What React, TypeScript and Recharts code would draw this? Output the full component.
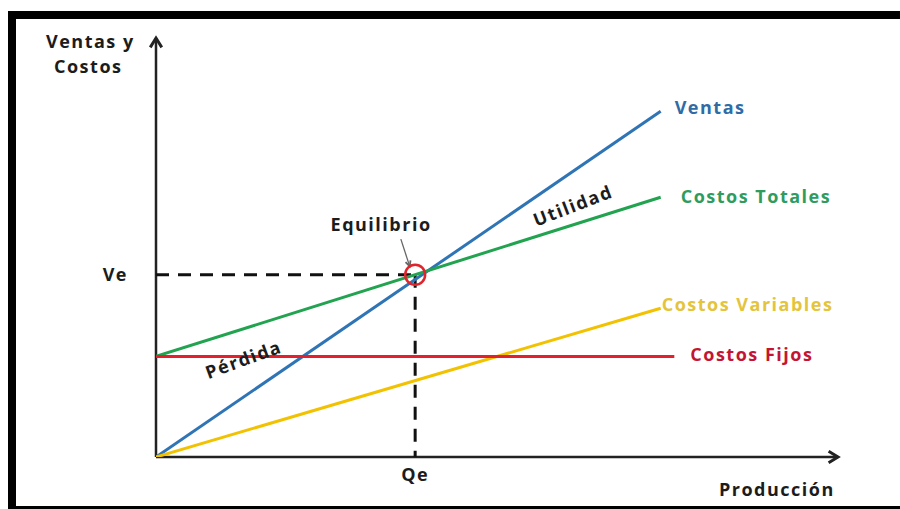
import { Line, LineChart, ReferenceDot, ReferenceLine, XAxis, YAxis } from "recharts";

// production quantity (x) and money (y), both on a 0..100 scale
const produccion = [0, 74];
const ventas = [0, 82.5];
const costosTotales = [24, 62];
const costosVariables = [0, 35.5];
const produccionFijos = [0, 76];
const costosFijos = [24, 24];

const qe = 38;
const ve = 43.5;

const FONT = "'Open Sans', 'DejaVu Sans', sans-serif";
const INK = "#1c1c1c";
const SPACING = 1.5;

const toPoints = (xs: number[], ys: number[]) => xs.map((x, i) => ({ x, y: ys[i] }));

const series = [
  { name: "Ventas", color: "#2f74b5", text: "#2f6ca6", data: toPoints(produccion, ventas), dx: 14, dy: -4 },
  { name: "Costos Totales", color: "#22a350", text: "#2f9c5e", data: toPoints(produccion, costosTotales), dx: 20, dy: -1 },
  { name: "Costos Variables", color: "#f2c200", text: "#e3c43c", data: toPoints(produccion, costosVariables), dx: 1, dy: -4 },
  { name: "Costos Fijos", color: "#e3202c", text: "#c41434", data: toPoints(produccionFijos, costosFijos), dx: 16, dy: -2 },
];

// line with an open chevron head at its end point
function ArrowLine(props: any) {
  const { x1, y1, x2, y2, stroke, strokeWidth, head = 9, spread = 0.6 } = props;
  const ang = Math.atan2(y2 - y1, x2 - x1);
  const p1 = [x2 - head * Math.cos(ang - spread), y2 - head * Math.sin(ang - spread)];
  const p2 = [x2 - head * Math.cos(ang + spread), y2 - head * Math.sin(ang + spread)];
  return (
    <g>
      <line x1={x1} y1={y1} x2={x2} y2={y2} stroke={stroke} strokeWidth={strokeWidth} />
      <polyline
        points={`${p1[0]},${p1[1]} ${x2},${y2} ${p2[0]},${p2[1]}`}
        fill="none"
        stroke={stroke}
        strokeWidth={strokeWidth + 0.5}
        strokeLinejoin="miter"
      />
    </g>
  );
}

const endLabel = (text: string, color: string, dx: number, dy: number) => (props: any) => {
  const { viewBox } = props;
  return (
    <text
      x={viewBox.x + dx}
      y={viewBox.y + dy}
      fill={color}
      fontFamily={FONT}
      fontWeight={700}
      fontSize={18}
      letterSpacing={SPACING}
      dominantBaseline="central"
    >
      {text}
    </text>
  );
};

const tiltedLabel = (text: string, angle: number) => (props: any) => {
  const { viewBox } = props;
  const cx = viewBox.x + viewBox.width / 2;
  const cy = viewBox.y + viewBox.height / 2;
  return (
    <text
      x={cx}
      y={cy}
      transform={`rotate(${angle} ${cx} ${cy})`}
      fill={INK}
      fontFamily={FONT}
      fontWeight={700}
      fontSize={18}
      letterSpacing={SPACING}
      textAnchor="middle"
      dominantBaseline="central"
    >
      {text}
    </text>
  );
};

const titleStyle: React.CSSProperties = {
  position: "absolute",
  fontFamily: FONT,
  fontWeight: 700,
  fontSize: 18,
  letterSpacing: SPACING,
  color: INK,
  lineHeight: "24px",
  whiteSpace: "nowrap",
};

const tickStyle = { fill: INK, fontFamily: FONT, fontWeight: 700, fontSize: 18, letterSpacing: SPACING };

export default function App() {
  return (
    <div style={{ position: "absolute", left: 0, top: 0, width: 900, height: 509, background: "#fff", overflow: "hidden" }}>
      <div
        style={{
          position: "absolute",
          left: 8,
          top: 11,
          width: 892,
          height: 498,
          boxSizing: "border-box",
          borderTop: "8px solid #000",
          borderLeft: "8px solid #000",
          borderBottom: "3px solid #000",
        }}
      />
      <div style={{ ...titleStyle, left: 46, top: 29 }}>Ventas y</div>
      <div style={{ ...titleStyle, left: 54, top: 54 }}>Costos</div>
      <div style={{ ...titleStyle, left: 719, top: 477 }}>Producción</div>

      <div style={{ position: "absolute", left: 0, top: 0 }}>
        <LineChart width={900} height={509} margin={{ top: 38, right: 62, bottom: 22, left: 96 }}>
          <XAxis
            type="number"
            dataKey="x"
            domain={[0, 100]}
            ticks={[qe]}
            tickFormatter={() => "Qe"}
            axisLine={false}
            tickLine={false}
            tickSize={0}
            tickMargin={11}
            height={30}
            tick={tickStyle}
            allowDataOverflow
          />
          <YAxis
            type="number"
            domain={[0, 100]}
            ticks={[ve]}
            tickFormatter={() => "Ve"}
            axisLine={false}
            tickLine={false}
            tickSize={0}
            tickMargin={28}
            width={60}
            tick={tickStyle}
            allowDataOverflow
          />

          {/* axes with arrow heads */}
          <ReferenceLine
            segment={[{ x: 0, y: 0 }, { x: 100, y: 0 }]}
            stroke="#222"
            strokeWidth={2.5}
            ifOverflow="visible"
            shape={(p: any) => <ArrowLine {...p} head={11} spread={0.55} />}
          />
          <ReferenceLine
            segment={[{ x: 0, y: 0 }, { x: 0, y: 100 }]}
            stroke="#222"
            strokeWidth={2.5}
            ifOverflow="visible"
            shape={(p: any) => <ArrowLine {...p} head={11} spread={0.55} />}
          />

          {/* break-even guides */}
          <ReferenceLine
            segment={[{ x: 0, y: ve }, { x: qe, y: ve }]}
            stroke="#111"
            strokeWidth={3}
            strokeDasharray="13 9"
            ifOverflow="visible"
          />
          <ReferenceLine
            segment={[{ x: qe, y: ve }, { x: qe, y: 0 }]}
            stroke="#111"
            strokeWidth={3}
            strokeDasharray="13 9"
            ifOverflow="visible"
          />

          {series.map((s) => (
            <Line
              key={s.name}
              data={s.data}
              dataKey="y"
              type="linear"
              stroke={s.color}
              strokeWidth={3}
              dot={false}
              activeDot={false}
              isAnimationActive={false}
            />
          ))}

          {series.map((s) => {
            const last = s.data[s.data.length - 1];
            return (
              <ReferenceDot
                key={`${s.name}-label`}
                x={last.x}
                y={last.y}
                r={0}
                fill="none"
                stroke="none"
                ifOverflow="visible"
                label={endLabel(s.name, s.text, s.dx, s.dy)}
              />
            );
          })}

          <ReferenceDot x={qe} y={ve} r={10} fill="none" stroke="#e0242c" strokeWidth={2.5} ifOverflow="visible" />

          {/* Equilibrio pointer */}
          <ReferenceLine
            segment={[{ x: 35.9, y: 52 }, { x: 37.2, y: 45.5 }]}
            stroke="#666"
            strokeWidth={1.3}
            ifOverflow="visible"
            shape={(p: any) => <ArrowLine {...p} head={6} spread={0.45} />}
          />
          <ReferenceDot x={33} y={55.6} r={0} fill="none" stroke="none" ifOverflow="visible" label={tiltedLabel("Equilibrio", 0)} />
          <ReferenceDot x={61.1} y={60.1} r={0} fill="none" stroke="none" ifOverflow="visible" label={tiltedLabel("Utilidad", -21)} />
          <ReferenceDot x={12.8} y={23.4} r={0} fill="none" stroke="none" ifOverflow="visible" label={tiltedLabel("Pérdida", -20)} />
        </LineChart>
      </div>
    </div>
  );
}
